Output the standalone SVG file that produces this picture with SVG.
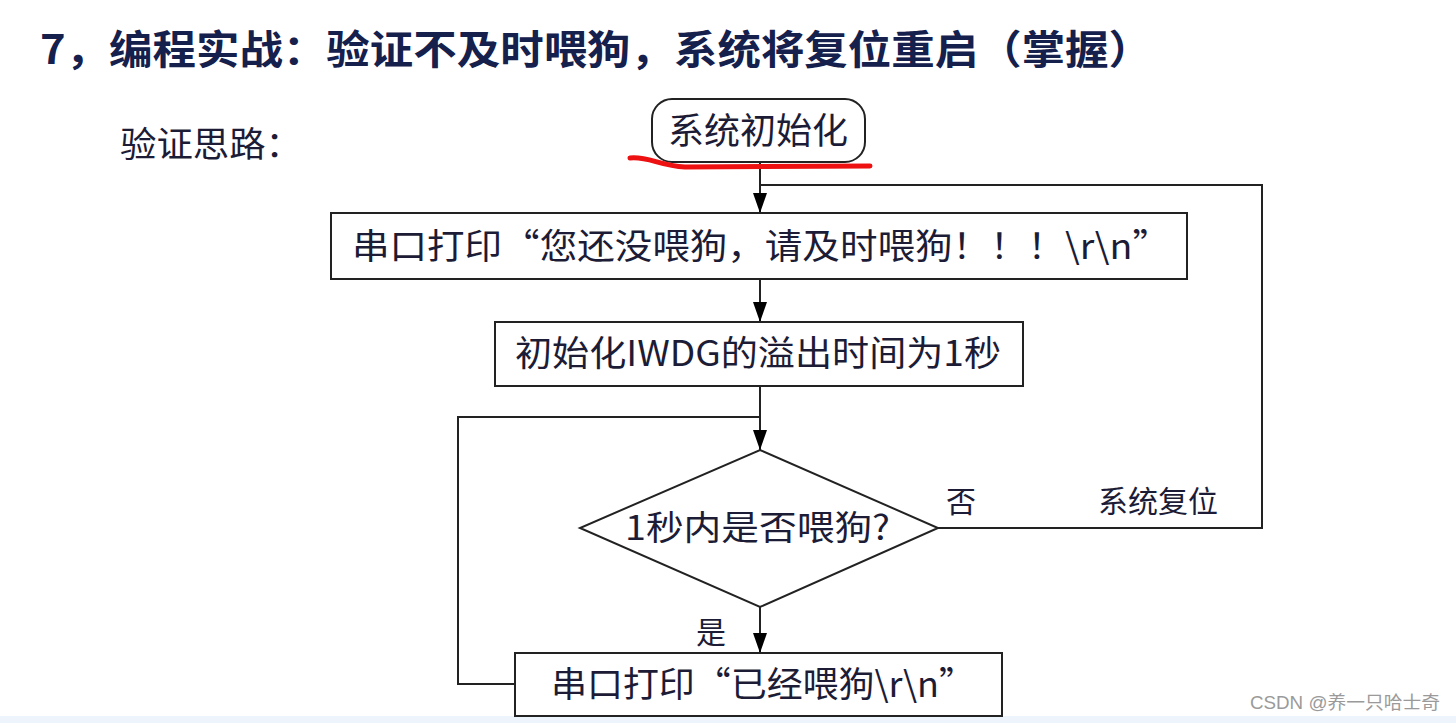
<svg xmlns="http://www.w3.org/2000/svg" width="1456" height="723" viewBox="0 0 1456 723">
<defs>
<marker id="arr" viewBox="0 0 20 14" refX="20" refY="7" markerWidth="20" markerHeight="14" markerUnits="userSpaceOnUse" orient="auto">
<path d="M0,0 L20,7 L0,14 Z" fill="#000"/>
</marker>
<style>
.t{font-family:"Noto Sans CJK SC","Noto Sans",sans-serif;fill:#1c1c36;}
.box{fill:#fff;stroke:#222;stroke-width:2;}
.ln{fill:none;stroke:#222;stroke-width:2;}
</style>
</defs>
<rect width="1456" height="723" fill="#fff"/>
<rect x="0" y="716" width="1456" height="7" fill="#eef4fb"/>
<text x="40" y="64" font-family="'Noto Sans CJK SC',sans-serif" font-weight="bold" font-size="40" fill="#15204d" textLength="1112" lengthAdjust="spacingAndGlyphs">7，编程实战：验证不及时喂狗，系统将复位重启（掌握）</text>
<text class="t" x="120" y="157" font-size="35" textLength="182" lengthAdjust="spacingAndGlyphs">验证思路：</text>
<g id="connectors">
<line class="ln" x1="760" y1="162" x2="760" y2="213" marker-end="url(#arr)"/>
<path class="ln" d="M938,528 H1262 V185 H760"/>
<line class="ln" x1="760" y1="279" x2="760" y2="322" marker-end="url(#arr)"/>
<line class="ln" x1="760" y1="386" x2="760" y2="450" marker-end="url(#arr)"/>
<path class="ln" d="M515,684 H458 V417 H760" stroke-width="1.5"/>
<line class="ln" x1="760" y1="607" x2="760" y2="653" marker-end="url(#arr)"/>
<text class="t" x="961" y="512" font-size="30" text-anchor="middle">否</text>
<text class="t" x="1158" y="512" font-size="30" text-anchor="middle">系统复位</text>
<text class="t" x="711" y="643" font-size="30" text-anchor="middle">是</text>
</g>
<g id="n-start">
<rect class="box" x="652" y="99" width="213" height="63" rx="20"/>
<text class="t" x="758" y="144" font-size="36" text-anchor="middle">系统初始化</text>
</g>
<path d="M630,158 C648,156 660,166 685,167 L870,166" fill="none" stroke="#ee1111" stroke-width="5" stroke-linecap="round"/>
<g id="n-print1">
<rect class="box" x="331" y="213" width="856" height="66"/>
<text class="t" x="352" y="259" font-size="35" textLength="818" lengthAdjust="spacingAndGlyphs">串口打印“您还没喂狗，请及时喂狗！！！\r\n”</text>
</g>
<g id="n-init">
<rect class="box" x="495" y="322" width="528" height="64"/>
<text class="t" x="515" y="366" font-size="35" textLength="486" lengthAdjust="spacingAndGlyphs">初始化IWDG的溢出时间为1秒</text>
</g>
<g id="n-decision">
<polygon class="box" points="760,450 938,528 760,607 580,528"/>
<text class="t" x="625" y="540" font-size="34" textLength="265" lengthAdjust="spacingAndGlyphs">1秒内是否喂狗?</text>
</g>
<g id="n-print2">
<rect class="box" x="515" y="653" width="487" height="63"/>
<text class="t" x="551" y="697" font-size="35" textLength="424" lengthAdjust="spacingAndGlyphs">串口打印“已经喂狗\r\n”</text>
</g>
<text x="1250" y="709" font-family="'Liberation Sans','Noto Sans CJK SC',sans-serif" font-size="18" fill="#9a9a9a" textLength="190" lengthAdjust="spacingAndGlyphs">CSDN @养一只哈士奇</text>
</svg>
